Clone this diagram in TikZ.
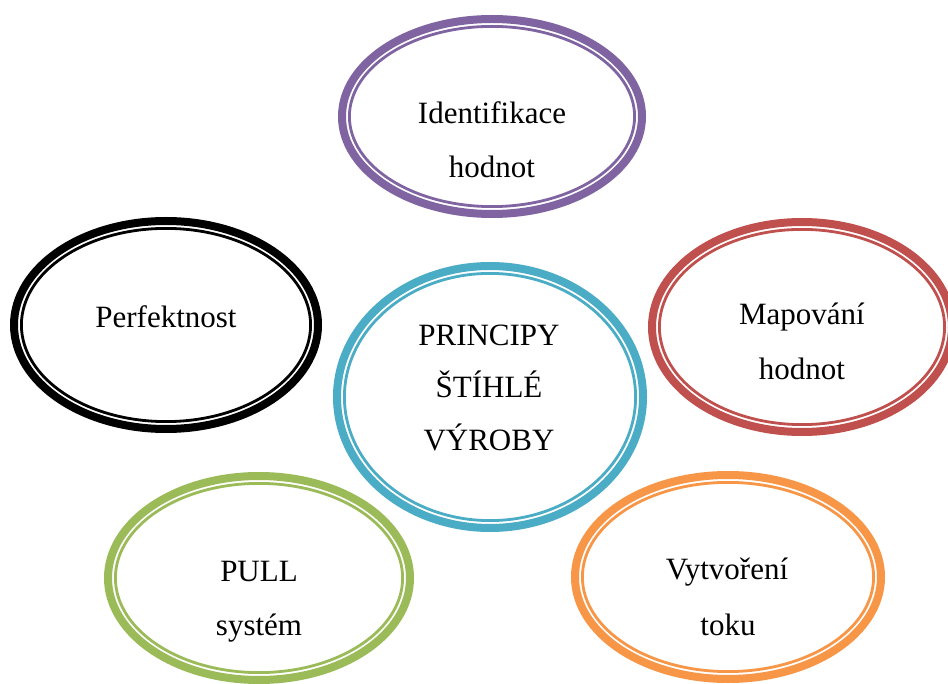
\documentclass[tikz,border=0pt]{standalone}
\usepackage{fontspec}
\setmainfont{Liberation Serif}
\usetikzlibrary{shapes.geometric}
\definecolor{cpurple}{HTML}{8064A2}
\definecolor{ccyan}{HTML}{4BACC6}
\definecolor{cred}{HTML}{C0504D}
\definecolor{corange}{HTML}{F79646}
\definecolor{cgreen}{HTML}{9BBB59}
\definecolor{cblack}{HTML}{000000}
\tikzset{
  lbl/.style={anchor=base, inner sep=0pt, font=\fontsize{31}{36}\selectfont},
}
% \ring{name}{colour}{cx}{cy}{rx}{ry}
\newcommand{\ring}[6]{%
  \node[ellipse, draw=#2, fill=white, line width=8pt, inner sep=0pt,
        minimum width={2*(#5)-8pt}, minimum height={2*(#6)-8pt}] (#1) at (#3,#4) {};
  \draw[#2, line width=2.8pt] (#1.center) ellipse [x radius={#5-11.4}, y radius={#6-11.4}];
}
\begin{document}
\begin{tikzpicture}[x=1pt,y=-1pt]
\useasboundingbox (0,0) rectangle (948,684);
\fill[white] (0,0) rectangle (948,684);
\ring{ident}{cpurple}{492}{116.5}{154}{101.5}
\ring{perf}{cblack}{166}{325}{156}{108}
\ring{center}{ccyan}{490}{397}{157}{135}
\ring{mapo}{cred}{802}{327}{154}{109}
\ring{pull}{cgreen}{259}{578}{155}{106}
\ring{tok}{corange}{728}{577}{157}{106}
\node[lbl] (t1a) at (492,124) {Identifikace};
\node[lbl] (t1b) at (492,178) {hodnot};
\node[lbl] (t2) at (166,328) {Perfektnost};
\node[lbl] (t3a) at (489,346) {PRINCIPY};
\node[lbl] (t3b) at (489,398) {ŠTÍHLÉ};
\node[lbl] (t3c) at (489,450) {VÝROBY};
\node[lbl] (t4a) at (802,325) {Mapování};
\node[lbl] (t4b) at (802,380) {hodnot};
\node[lbl] (t5a) at (259,581) {PULL};
\node[lbl] (t5b) at (259,635) {systém};
\node[lbl] (t6a) at (727,579) {Vytvoření};
\node[lbl] (t6b) at (728,635) {toku};
\end{tikzpicture}
\end{document}
